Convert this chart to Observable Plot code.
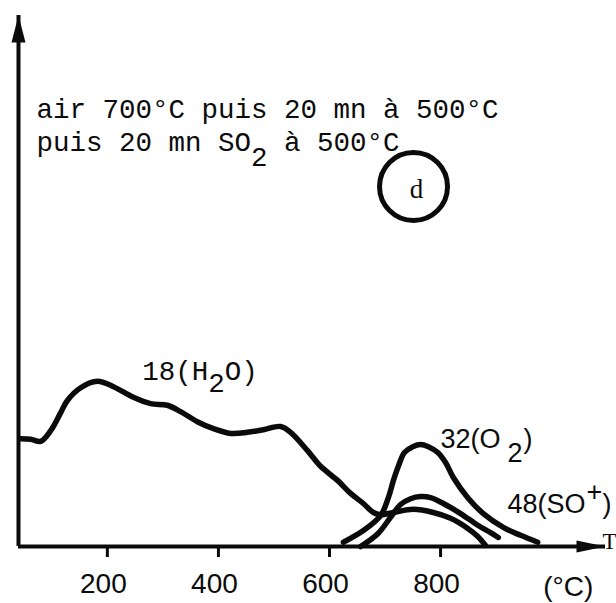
<!DOCTYPE html>
<html>
<head>
<meta charset="utf-8">
<script src="https://cdn.jsdelivr.net/npm/d3@7"></script>
<script src="https://cdn.jsdelivr.net/npm/@observablehq/plot@0.6"></script>
<style>
  html, body { margin: 0; padding: 0; background: #ffffff; }
  #chart svg { display: block; }
</style>
</head>
<body>
<div id="chart"></div>
<script>
// ---- data (temperature °C, signal in arbitrary units) ----
const h2oT = [44, 62, 80, 98, 116, 128, 152, 182, 211, 247, 278, 308, 332, 362, 391, 422, 452, 481, 512, 530, 560, 584, 615, 638, 661, 679, 692, 715, 751, 787, 818, 849, 867, 881];
const h2oV = [20.3, 20.2, 19.8, 21.8, 25.2, 27.5, 29.9, 31.1, 30.1, 28.1, 26.9, 26.6, 25.4, 23.5, 22.2, 21.3, 21.5, 22.0, 22.6, 21.5, 18.1, 15.1, 12.4, 10.0, 8.1, 6.4, 6.0, 6.4, 7.0, 6.4, 5.3, 3.4, 1.9, 0.2];

const o2T = [625, 661, 692, 706, 715, 724, 735, 750, 764, 778, 795, 809, 823, 849, 877, 913, 944, 975];
const o2V = [0.8, 3.0, 5.8, 9.2, 12.4, 15.1, 17.7, 18.8, 19.2, 18.8, 17.7, 15.8, 13.0, 9.2, 6.2, 3.6, 2.1, 0.8];

const so48T = [656, 687, 710, 728, 746, 764, 782, 805, 836, 867, 890, 904];
const so48V = [0.0, 2.4, 5.5, 7.9, 9.0, 9.4, 9.2, 8.1, 6.2, 4.0, 2.6, 1.7];

const seriesNames = ["18(H2O)", "32(O2)", "48(SO+)"];
const xTicks = [200, 400, 600, 800];
const xDomain = [40, 1097];
const yDomain = [0, 100];

const annotationLine1 = "air 700°C puis 20 mn à 500°C";
const annotationLine2 = ["puis 20 mn SO", "2", " à 500°C"];
const unitLabel = "(°C)";
const axisLetter = "T";
const panelLetter = "d";

// ---- build table ----
const seriesData = [
  {name: seriesNames[0], T: h2oT, V: h2oV},
  {name: seriesNames[1], T: o2T, V: o2V},
  {name: seriesNames[2], T: so48T, V: so48V}
];
const rows = seriesData.flatMap(s => s.T.map((t, i) => ({series: s.name, T: t, V: s.V[i]})));

const INK = "#0b0b0b";
const MONO = "'Liberation Mono', 'DejaVu Sans Mono', monospace";
const SANS = "'Liberation Sans', Arial, sans-serif";
const SERIF = "'Liberation Serif', 'DejaVu Serif', serif";
const monoSize = 27.5;
const cw = monoSize * 0.6; // monospace advance

const upArrow = {draw(ctx) { ctx.moveTo(0, 0); ctx.lineTo(7, 27); ctx.lineTo(-7, 27); ctx.closePath(); }};
const rightArrow = {draw(ctx) { ctx.moveTo(0, 0); ctx.lineTo(-29, 6); ctx.lineTo(-29, -6); ctx.closePath(); }};

// text piece helper (data-anchored labels)
function piece(str, x, y, opts) {
  return Plot.text([str], Object.assign({x: () => x, y: () => y, text: d => d, fill: INK,
    textAnchor: "start", lineAnchor: "bottom"}, opts));
}
// text piece anchored to the frame's top-left corner
function framePiece(str, dx, dy, opts) {
  return Plot.text([str], Object.assign({text: d => d, frameAnchor: "top-left", dx, dy, fill: INK,
    textAnchor: "start", lineAnchor: "bottom", fontFamily: MONO, fontSize: monoSize}, opts));
}

const chart = Plot.plot({
  width: 616,
  height: 603,
  marginLeft: 18,
  marginRight: 11,
  marginTop: 15,
  marginBottom: 57,
  x: {domain: xDomain, label: null},
  y: {domain: yDomain, axis: null, label: null},
  style: {background: "#ffffff", color: INK},
  marks: [
    // axes lines
    Plot.ruleY([yDomain[0]], {stroke: INK, strokeWidth: 4}),
    Plot.ruleX([xDomain[0]], {stroke: INK, strokeWidth: 4}),
    Plot.dot([0], {x: () => xDomain[0], y: () => yDomain[1], symbol: upArrow, r: 10, fill: INK, stroke: "none"}),
    Plot.dot([0], {x: () => xDomain[1], y: () => yDomain[0], symbol: rightArrow, r: 10, fill: INK, stroke: "none"}),
    // ticks and labels
    Plot.axisX(xTicks, {label: null, tickSize: 11, strokeWidth: 3, stroke: INK, tickFormat: () => ""}),
    Plot.axisX(xTicks, {label: null, tickSize: 0, tickPadding: 27, dx: -4, fontSize: 28, fontFamily: SANS, fill: INK}),
    Plot.text([unitLabel], {x: () => 1030, y: () => yDomain[0], text: d => d, dy: 49, lineAnchor: "bottom", textAnchor: "middle", fontSize: 28, fontFamily: SANS, fill: INK}),
    Plot.text([axisLetter], {x: () => xDomain[1], y: () => yDomain[0], text: d => d, dx: -3, dy: 2, lineAnchor: "bottom", textAnchor: "start", fontSize: 23, fontFamily: SERIF, fill: INK}),
    // curves
    Plot.line(rows, {x: "T", y: "V", z: "series", stroke: INK, strokeWidth: 5.5, curve: "catmull-rom", strokeLinecap: "round", strokeLinejoin: "round"}),
    // curve labels
    piece("18(H", 263, 31.3, {fontFamily: MONO, fontSize: monoSize}),
    piece("2", 263, 31.3, {fontFamily: MONO, fontSize: monoSize, dx: 4 * cw, dy: 12}),
    piece("O)", 263, 31.3, {fontFamily: MONO, fontSize: monoSize, dx: 5 * cw}),
    piece("32(O", 800, 18.6, {fontFamily: SANS, fontSize: 27}),
    piece("2", 800, 18.6, {fontFamily: SANS, fontSize: 27, dx: 67, dy: 14}),
    piece(")", 800, 18.6, {fontFamily: SANS, fontSize: 27, dx: 83}),
    piece("48(SO", 920.6, 6.4, {fontFamily: SANS, fontSize: 27}),
    piece("+", 920.6, 6.4, {fontFamily: SANS, fontSize: 27, dx: 79, dy: -12}),
    piece(")", 920.6, 6.4, {fontFamily: SANS, fontSize: 27, dx: 95}),
    // annotation
    framePiece(annotationLine1, 18, 102),
    framePiece(annotationLine2[0], 18, 135),
    framePiece(annotationLine2[1], 18 + 13 * cw, 150),
    framePiece(annotationLine2[2], 18 + 14 * cw, 135),
    // circled panel letter
    Plot.dot([0], {x: () => 751.3, y: () => 67.8, r: 34, stroke: INK, strokeWidth: 5, fill: "none"}),
    Plot.text([panelLetter], {x: () => 751.3, y: () => 67.8, text: d => d, dx: 3, dy: 3, fontFamily: SERIF, fontSize: 27, fill: INK})
  ]
});

document.getElementById("chart").appendChild(chart);
</script>
</body>
</html>
